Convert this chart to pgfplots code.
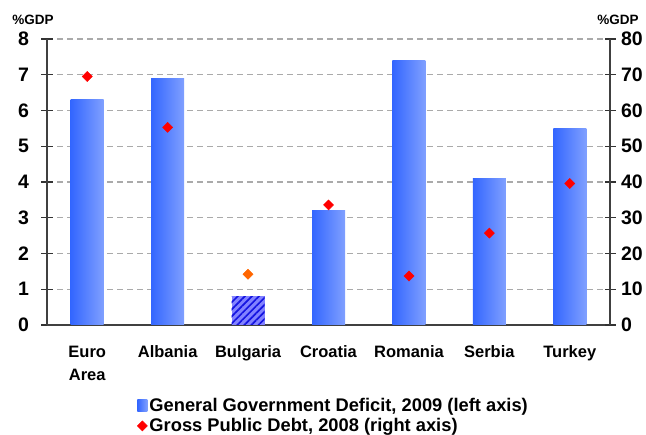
\documentclass[border=0pt]{standalone}
\usepackage{fontspec}
\setmainfont{Liberation Sans}
\usepackage{pgfplots}
\pgfplotsset{compat=1.18}
\usetikzlibrary{patterns.meta,calc}

\definecolor{barL}{RGB}{51,102,255}
\definecolor{barR}{RGB}{128,160,255}
\definecolor{hatchbg}{RGB}{130,130,255}
\definecolor{hatchfg}{RGB}{20,20,225}
\definecolor{debtred}{RGB}{255,0,0}
\definecolor{debtorange}{RGB}{255,102,0}
\definecolor{gridgray}{RGB}{170,170,170}

\pgfplotsset{
  common/.style={
    scale only axis, width=563pt, height=286pt,
    xmin=-0.5, xmax=6.5,
    tick align=center, major tick length=11pt,
    axis line style={-, black!75, line width=1.3pt},
    every tick/.style={black!80, line width=1.1pt},
    /pgf/number format/assume math mode=true,
    y tick label style={font=\bfseries\fontsize{19.5}{19.5}\selectfont},
  },
  gbar/.style={ybar, bar width=33pt, bar shift=0pt, draw=none, left color=barL, right color=barR},
  barlegend/.style={legend image code/.code={\path[##1] (0pt,-6pt) rectangle (10pt,6pt);}},
  diamlegend/.style={legend image code/.code={\draw[##1] plot coordinates {(5pt,0pt)};}},
}

\begin{document}
\begin{tikzpicture}
\begin{axis}[common,
  ymin=0, ymax=8, ytick={0,1,...,8},
  axis y line*=left, axis x line*=bottom,
  yticklabel style={xshift=-9pt},
  xtick={0,...,6},
  xticklabels={{Euro\\Area},Albania,Bulgaria,Croatia,Romania,Serbia,Turkey},
  xticklabel style={align=center, font=\bfseries\fontsize{16.5}{23}\selectfont, yshift=-12pt},
  x tick style={draw=none},
  ymajorgrids, grid style={gridgray, dash pattern=on 6pt off 4pt, line width=1.1pt},
]
\addplot[gbar] coordinates {(0,6.3)};
\addplot[gbar] coordinates {(1,6.9)};
\addplot[ybar, bar width=33pt, bar shift=0pt, draw=none, fill=hatchbg,
  postaction={pattern={Lines[angle=45,distance=5pt,line width=1.7pt]}, pattern color=hatchfg}] coordinates {(2,0.8)};
\addplot[gbar] coordinates {(3,3.2)};
\addplot[gbar] coordinates {(4,7.4)};
\addplot[gbar] coordinates {(5,4.1)};
\addplot[gbar] coordinates {(6,5.5)};
\coordinate (ll) at (rel axis cs:0,0);
\coordinate (ur) at (rel axis cs:1,1);
\coordinate (ul) at (rel axis cs:0,1);
\end{axis}
\begin{axis}[common,
  ymin=0, ymax=80, ytick={0,10,...,80},
  axis y line*=right, axis x line=none,
  yticklabel style={xshift=2pt},
  legend style={at={(axis description cs:0.16,-0.247)}, anchor=north west, draw=none, fill=none,
    font=\bfseries\fontsize{18.3}{20}\selectfont, row sep=2pt, inner sep=0pt},
  legend cell align=left,
]
\addlegendimage{barlegend, left color=barL, right color=barR, draw=none}
\addlegendentry{General Government Deficit, 2009 (left axis)}
\addplot[only marks, mark=square*, mark size=3.6pt, mark options={rotate=45, fill=debtred, draw=debtred}, diamlegend] coordinates {
(0,69.5) (1,55.3) (3,33.6) (4,13.7) (5,25.7) (6,39.6)};
\addlegendentry{Gross Public Debt, 2008 (right axis)}
\addplot[only marks, mark=square*, mark size=3.6pt, mark options={rotate=45, fill=debtorange, draw=debtorange}, forget plot] coordinates {(2,14.2)};
\end{axis}
\node[font=\bfseries\fontsize{13.5}{13.5}\selectfont, anchor=base] at ($(ul)+(-14pt,14pt)$) {\%GDP};
\node[font=\bfseries\fontsize{13.5}{13.5}\selectfont, anchor=base] at ($(ur)+(8pt,14pt)$) {\%GDP};
\pgfresetboundingbox
\useasboundingbox ($(ll)+(-47pt,-110pt)$) rectangle ($(ur)+(36pt,39pt)$);
\end{tikzpicture}
\end{document}
